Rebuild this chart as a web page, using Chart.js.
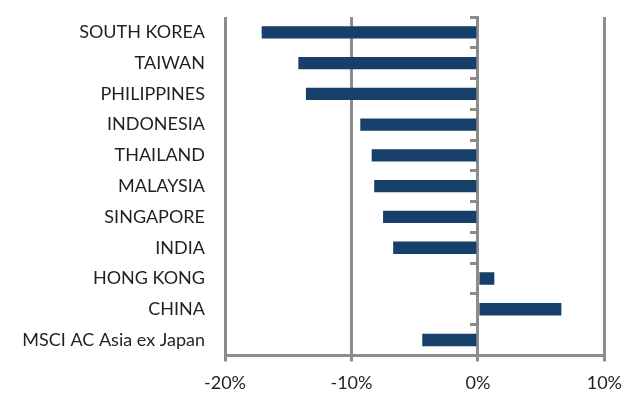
<!DOCTYPE html>
<html>
<head>
<meta charset="utf-8">
<script src="https://cdn.jsdelivr.net/npm/chart.js@4.4.0/dist/chart.umd.min.js"></script>
<style>
  body { margin: 0; background: #fff; }
  #wrap { width: 633px; height: 403px; }
</style>
</head>
<body>
<div id="wrap"><canvas id="myChart"></canvas></div>
<script>
  // categories, top to bottom
  const countries = ['SOUTH KOREA', 'TAIWAN', 'PHILIPPINES', 'INDONESIA', 'THAILAND', 'MALAYSIA',
                     'SINGAPORE', 'INDIA', 'HONG KONG', 'CHINA', 'MSCI AC Asia ex Japan'];
  // returns in %
  const returns = [-17.1, -14.2, -13.6, -9.3, -8.4, -8.2, -7.5, -6.7, 1.3, 6.6, -4.4];
  const xTicks = [-20, -10, 0, 10];

  const grey = '#8c8c8c';
  const font = { family: "Lato, sans-serif", size: 18 };

  // drop the label overhang padding so the plot can start near the top
  const noVPad = (s) => { s.paddingTop = 0; s.paddingBottom = 0; };

  const data = {
    labels: countries,
    datasets: [{
      data: returns,
      backgroundColor: '#163f6a',
      barPercentage: 0.4,
      categoryPercentage: 1.0
    }]
  };

  const config = {
    type: 'bar',
    data,
    options: {
      indexAxis: 'y',
      responsive: true,
      maintainAspectRatio: false,
      animation: false,
      layout: { padding: { top: 17, right: 27, bottom: -2, left: 0 } },
      plugins: {
        legend: { display: false },
        tooltip: { enabled: false }
      },
      scales: {
        x: {
          min: xTicks[0],
          max: xTicks[xTicks.length - 1],
          afterBuildTicks: (axis) => { axis.ticks = xTicks.map(v => ({ value: v })); },
          grid: { color: grey, lineWidth: 3, tickLength: 6 },
          border: { display: true, color: grey, width: 3 },
          ticks: {
            color: '#231f20',
            font,
            padding: 11,
            callback: (v) => v + '%'
          }
        },
        y: {
          grid: { display: false, drawTicks: false },
          border: { display: false },
          ticks: { color: '#231f20', font, padding: 20 },
          afterFit: (s) => { s.width = 225; noVPad(s); }
        },
        // zero line with category ticks
        yz: {
          type: 'category',
          labels: countries,
          position: { x: 0 },
          offset: true,
          z: 1,
          grid: { offset: true, drawOnChartArea: false, color: grey, lineWidth: 3, tickLength: 6 },
          border: { display: true, color: grey, width: 3 },
          ticks: { display: false },
          afterFit: noVPad
        }
      }
    }
  };

  const myChart = new Chart(document.getElementById('myChart'), config);
</script>
</body>
</html>
